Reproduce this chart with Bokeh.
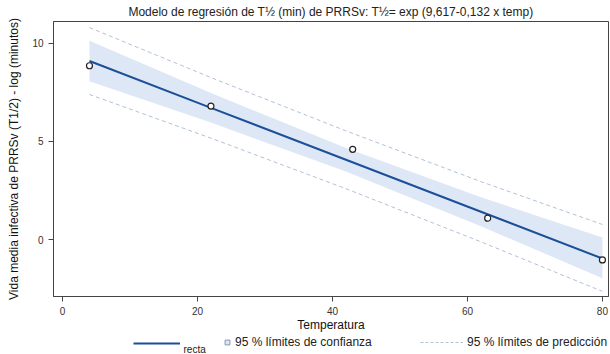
from bokeh.plotting import figure
from bokeh.models import Legend, LegendItem, Range1d, FixedTicker, Label
from bokeh.layouts import column
from bokeh.embed import file_html
from bokeh.resources import INLINE

# observed data points
temp = [4, 22, 43, 63, 80]
log_t = [8.85, 6.80, 4.60, 1.10, -1.02]

# fitted line and bands
x_fit = [4, 22, 42, 62, 80]
fit = [9.09, 6.71, 4.07, 1.43, -0.95]
ci_hi = [10.12, 7.46, 4.67, 2.17, 0.12]
ci_lo = [8.06, 5.96, 3.47, 0.69, -1.95]
pi_hi = [10.79, 8.25, 5.54, 2.96, 0.78]
pi_lo = [7.39, 5.17, 2.60, -0.10, -2.62]

x_ticks = [0, 20, 40, 60, 80]
y_ticks = [0, 5, 10]

title_txt = "Modelo de regresión de T½ (min) de PRRSv: T½= exp (9,617-0,132 x temp)"
legend_labels = ["recta", "95 % límites de confianza", "95 % límites de predicción"]
FONT = "Liberation Sans"

LINE_C = "#1b4f98"
BAND_C = "#dde7f5"
PRED_C = "#b3c0d6"

# main chart
p = figure(width=610, height=334, output_backend="svg", toolbar_location=None,
           x_range=Range1d(-1.33, 80.9), y_range=Range1d(-2.88, 11.1),
           min_border_left=53, min_border_right=2, min_border_top=21, min_border_bottom=37)
p.title.text = title_txt
p.title.text_font = FONT
p.title.text_font_size = "12px"
p.title.text_font_style = "normal"
p.title.align = "center"
p.title.offset = 36
p.title.standoff = 5
p.title.text_color = "#222222"

p.grid.visible = False
p.outline_line_color = "#444444"
p.outline_line_width = 1

p.varea(x=x_fit, y1=ci_lo, y2=ci_hi, fill_color=BAND_C, fill_alpha=1.0)
p.line(x_fit, pi_hi, line_color=PRED_C, line_dash="4 3", line_width=1)
p.line(x_fit, pi_lo, line_color=PRED_C, line_dash="4 3", line_width=1)
p.line(x_fit, fit, line_color=LINE_C, line_width=2)
p.scatter(temp, log_t, marker="circle", size=6, fill_color="white",
          line_color="#222222", line_width=1.2)

for ax in (p.xaxis[0], p.yaxis[0]):
    ax.major_tick_in = 0
    ax.major_tick_out = 5
    ax.minor_tick_line_color = None
    ax.axis_line_color = "#444444"
    ax.major_tick_line_color = "#444444"
    ax.major_label_text_font = FONT
    ax.major_label_text_font_size = "10px"
    ax.major_label_text_color = "#333333"
    ax.axis_label_text_font = FONT
    ax.axis_label_text_font_size = "12px"
    ax.axis_label_text_font_style = "normal"
    ax.axis_label_text_color = "#111111"

p.xaxis.ticker = FixedTicker(ticks=x_ticks)
p.yaxis.ticker = FixedTicker(ticks=y_ticks)
p.yaxis.major_label_orientation = "horizontal"
p.xaxis.axis_label = "Temperatura"
p.xaxis.axis_label_standoff = 0
p.xaxis.major_label_standoff = 5
p.yaxis.axis_label = "Vida media infectiva de PRRSv (T1/2) - log (minutos)"
p.yaxis.axis_label_standoff = 8

# legend strip (its ranges keep the swatch renderers out of view)
lf = figure(width=610, height=20, output_backend="svg", toolbar_location=None,
            x_range=Range1d(1000, 1555), y_range=Range1d(1000, 1020),
            min_border=0, min_border_left=0, min_border_right=0,
            min_border_top=0, min_border_bottom=0)
lf.axis.visible = False
lf.grid.visible = False
lf.outline_line_color = None
r_line = lf.line(x_fit, fit, line_color=LINE_C, line_width=2)
r_band = lf.scatter(x_fit, ci_hi, marker="square", size=10, fill_color=BAND_C,
                    line_color="#8796b0", line_width=1)
r_pred = lf.line(x_fit, pi_hi, line_color=PRED_C, line_dash="3 2", line_width=1)

common = dict(orientation="horizontal", border_line_color=None, background_fill_alpha=0,
              label_text_font=FONT, label_text_font_size="12px",
              label_text_color="#222222", padding=0, margin=0, label_height=12)
lf.add_layout(Legend(items=[LegendItem(label=" ", renderers=[r_line])],
                     location=(80, 5), glyph_width=47, glyph_height=12,
                     label_standoff=0, **common), "center")
lf.add_layout(Legend(items=[LegendItem(label=legend_labels[1], renderers=[r_band])],
                     location=(168, 5), glyph_width=12, glyph_height=12,
                     label_standoff=2, **common), "center")
lf.add_layout(Legend(items=[LegendItem(label=legend_labels[2], renderers=[r_pred])],
                     location=(367, 5), glyph_width=43, glyph_height=12,
                     label_standoff=4, **common), "center")
lf.add_layout(Label(x=1130, y=1000, text=legend_labels[0], text_font=FONT,
                    text_font_size="10px", text_baseline="bottom", text_color="#222222"))

open("out.html", "w").write(file_html(column(p, lf, spacing=0), INLINE))
